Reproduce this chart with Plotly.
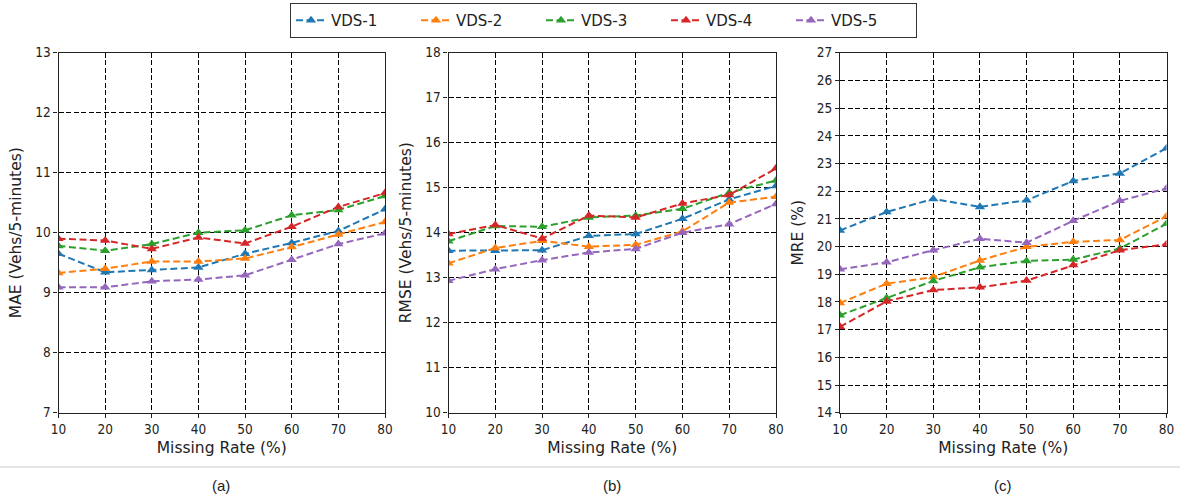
import plotly.graph_objects as go

missing_rate = [10, 20, 30, 40, 50, 60, 70, 80]
series_names = ["VDS-1", "VDS-2", "VDS-3", "VDS-4", "VDS-5"]
colors = ["#1f77b4", "#ff7f0e", "#2ca02c", "#d62728", "#9467bd"]

mae_vds1 = [9.65, 9.34, 9.38, 9.42, 9.65, 9.83, 10.03, 10.39]
mae_vds2 = [9.33, 9.40, 9.52, 9.52, 9.57, 9.76, 9.97, 10.18]
mae_vds3 = [9.78, 9.70, 9.81, 10.00, 10.04, 10.29, 10.38, 10.61]
mae_vds4 = [9.90, 9.87, 9.73, 9.92, 9.82, 10.10, 10.43, 10.66]
mae_vds5 = [9.09, 9.09, 9.19, 9.22, 9.29, 9.55, 9.81, 9.99]

rmse_vds1 = [13.60, 13.60, 13.61, 13.93, 13.97, 14.31, 14.74, 15.04]
rmse_vds2 = [13.32, 13.66, 13.82, 13.69, 13.73, 14.03, 14.67, 14.80]
rmse_vds3 = [13.81, 14.15, 14.13, 14.34, 14.38, 14.53, 14.89, 15.16]
rmse_vds4 = [13.97, 14.17, 13.87, 14.38, 14.34, 14.65, 14.84, 15.43]
rmse_vds5 = [12.93, 13.19, 13.39, 13.56, 13.64, 14.00, 14.19, 14.64]

mre_vds1 = [20.58, 21.25, 21.72, 21.43, 21.67, 22.37, 22.64, 23.55]
mre_vds2 = [17.96, 18.66, 18.90, 19.50, 19.99, 20.17, 20.24, 21.09]
mre_vds3 = [17.52, 18.14, 18.76, 19.25, 19.48, 19.53, 19.93, 20.82]
mre_vds4 = [17.10, 18.02, 18.43, 18.53, 18.77, 19.33, 19.87, 20.08]
mre_vds5 = [19.18, 19.43, 19.87, 20.28, 20.14, 20.93, 21.65, 22.10]

mae = [mae_vds1, mae_vds2, mae_vds3, mae_vds4, mae_vds5]
rmse = [rmse_vds1, rmse_vds2, rmse_vds3, rmse_vds4, rmse_vds5]
mre = [mre_vds1, mre_vds2, mre_vds3, mre_vds4, mre_vds5]

panels = [
    ("MAE (Vehs/5-minutes)", mae, [7, 13], "(a)"),
    ("RMSE (Vehs/5-minutes)", rmse, [10, 18], "(b)"),
    ("MRE (%)", mre, [14, 27], "(c)"),
]

W, H = 1180, 500
x_domains = [[58.5 / W, 385 / W], [448.5 / W, 776 / W], [840 / W, 1166.5 / W]]
y_domain = [1 - 412.7 / H, 1 - 52.7 / H]
caption_x = [221, 612, 1003]

FONT = "DejaVu Sans, sans-serif"
TICKFONT = "DejaVu Sans Condensed, DejaVu Sans, sans-serif"
CAPFONT = "Liberation Sans, Arial, sans-serif"

fig = go.Figure()

for p, (ytitle, data, yr, cap) in enumerate(panels):
    sfx = "" if p == 0 else str(p + 1)
    for i, name in enumerate(series_names):
        fig.add_trace(go.Scatter(
            x=missing_rate, y=data[i], name=name,
            mode="lines+markers",
            line=dict(color=colors[i], width=2, dash="7px,3.5px"),
            marker=dict(symbol="triangle-up", size=9, color=colors[i]),
            xaxis="x" + sfx, yaxis="y" + sfx,
            showlegend=(p == 0),
        ))
    common = dict(
        showline=True, mirror=True, linecolor="#222", linewidth=1.2,
        showgrid=True, gridcolor="black", gridwidth=1.2, griddash="5px,2.5px",
        zeroline=False, ticks="outside", ticklen=4, tickcolor="#222",
        tickfont=dict(family=TICKFONT, size=13.5, color="#222"),
        automargin=False,
    )
    fig.layout["xaxis" + sfx] = dict(
        domain=x_domains[p], range=[10, 80], tickmode="array",
        tickvals=missing_rate, anchor="y" + sfx,
        title=dict(text="Missing Rate (%)", font=dict(family=FONT, size=15.5, color="#222"), standoff=6),
        **common,
    )
    fig.layout["yaxis" + sfx] = dict(
        domain=y_domain, range=yr, dtick=1, anchor="x" + sfx,
        title=dict(text=ytitle, font=dict(family=FONT, size=15.5, color="#222"), standoff=9),
        **common,
    )
    fig.add_annotation(
        x=caption_x[p] / W, y=1 - 485 / H, xref="paper", yref="paper",
        text=cap, showarrow=False, font=dict(family=CAPFONT, size=15, color="#222"),
        xanchor="center", yanchor="middle",
    )

fig.add_shape(type="line", xref="paper", yref="paper",
              x0=0, x1=1, y0=1 - 467 / H, y1=1 - 467 / H,
              line=dict(color="#cccccc", width=1))

fig.update_layout(
    width=W, height=H,
    margin=dict(l=0, r=0, t=0, b=0, autoexpand=False),
    paper_bgcolor="white", plot_bgcolor="white",
    font=dict(family=FONT, color="#222"),
    legend=dict(
        orientation="h", x=290 / W, y=1 - 3 / H, xanchor="left", yanchor="top",
        bordercolor="#333", borderwidth=1,
        font=dict(family=FONT, size=15, color="#222"),
        entrywidth=80, entrywidthmode="pixels",
        itemwidth=30,
    ),
)

fig.write_html("out.html")
